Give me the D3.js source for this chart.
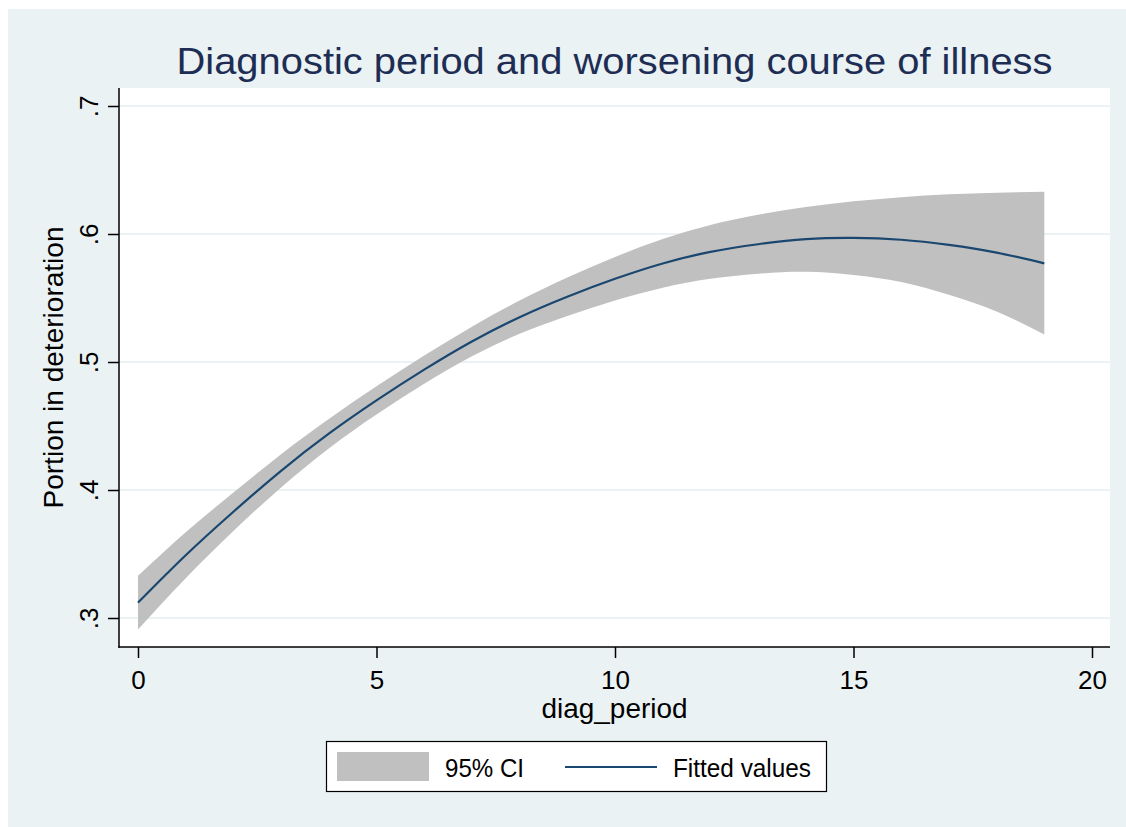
<!DOCTYPE html>
<html>
<head>
  <meta charset="UTF-8">
  <style>
    body { margin: 0; background: #fff; }
    svg { display: block; }
    text { font-family: "Liberation Sans", Arial, sans-serif; }
  </style>
</head>
<body>
  <svg width="1126" height="827"></svg>
  <script src="https://d3js.org/d3.v7.min.js"></script>
  <script>
    // values (diag_period 0..19)
    const diagPeriod = [0, 1, 2, 3, 4, 5, 6, 7, 8, 9, 10, 11, 12, 13, 14, 15, 16, 17, 18, 19];
    const fitted = [.312, .349, .383, .415, .444, .470, .494, .516, .535, .551, .565, .577, .586, .592, .596, .597, .5955, .5915, .5855, .577];
    const ciLower = [.291, .331, .368, .402, .4325, .459, .483, .5045, .522, .536, .548, .558, .565, .569, .5705, .568, .5625, .5525, .5395, .5215];
    const ciUpper = [.333, .367, .398, .428, .4555, .481, .505, .5275, .548, .566, .582, .596, .607, .615, .621, .6255, .6288, .631, .6323, .633];

    const xTicks = [0, 5, 10, 15, 20];
    const yTicks = [.3, .4, .5, .6, .7];
    const yTickLabels = ['.3', '.4', '.5', '.6', '.7'];
    const legendLabels = ['95% CI', 'Fitted values'];

    const bg = '#eaf2f3';
    const navy = '#1a476f';
    const ciGrey = '#c0c0c0';

    const svg = d3.select('svg');

    // outer graph region
    svg.append('rect')
      .attr('x', 8).attr('y', 9)
      .attr('width', 1118).attr('height', 818)
      .attr('fill', bg);

    const plot = { left: 119, right: 1110, top: 88, bottom: 647 };

    svg.append('rect')
      .attr('x', plot.left).attr('y', plot.top)
      .attr('width', plot.right - plot.left)
      .attr('height', plot.bottom - plot.top)
      .attr('fill', '#fff');

    const x = d3.scaleLinear().domain([0, 20]).range([138, 1092]);
    const y = d3.scaleLinear().domain([.3, .7]).range([618, 106]);

    // gridlines
    svg.append('g')
      .selectAll('line')
      .data(yTicks)
      .enter()
      .append('line')
      .attr('x1', plot.left).attr('x2', plot.right)
      .attr('y1', d => y(d)).attr('y2', d => y(d))
      .attr('stroke', bg)
      .attr('stroke-width', 2);

    const rows = diagPeriod.map((d, i) => ({ x: d, fit: fitted[i], lo: ciLower[i], hi: ciUpper[i] }));

    // confidence band
    const area = d3.area()
      .x(d => x(d.x))
      .y0(d => y(d.lo))
      .y1(d => y(d.hi))
      .curve(d3.curveNatural);

    svg.append('path')
      .datum(rows)
      .attr('d', area)
      .attr('fill', ciGrey);

    // fitted line
    const line = d3.line()
      .x(d => x(d.x))
      .y(d => y(d.fit))
      .curve(d3.curveNatural);

    svg.append('path')
      .datum(rows)
      .attr('d', line)
      .attr('fill', 'none')
      .attr('stroke', navy)
      .attr('stroke-width', 2.2);

    // y axis
    const yAxis = svg.append('g')
      .attr('transform', `translate(${plot.left},0)`)
      .call(d3.axisLeft(y).tickValues(yTicks).tickSize(11)
        .tickFormat((d, i) => yTickLabels[i]));
    yAxis.select('.domain').remove();
    yAxis.selectAll('.tick line').attr('stroke', '#000').attr('stroke-width', 1.5);
    yAxis.selectAll('.tick text')
      .attr('x', 0).attr('dy', null)
      .attr('transform', 'translate(-21,0) rotate(-90)')
      .attr('text-anchor', 'middle')
      .attr('font-size', 26)
      .attr('fill', '#000');

    // x axis
    const xAxis = svg.append('g')
      .attr('transform', `translate(0,${plot.bottom})`)
      .call(d3.axisBottom(x).tickValues(xTicks).tickSize(11).tickFormat(d3.format('d')));
    xAxis.select('.domain').remove();
    xAxis.selectAll('.tick line').attr('stroke', '#000').attr('stroke-width', 1.5);
    xAxis.selectAll('.tick text')
      .attr('y', 42).attr('dy', null)
      .attr('font-size', 26)
      .attr('fill', '#000');

    // axis lines
    svg.append('line')
      .attr('x1', plot.left).attr('x2', plot.left)
      .attr('y1', plot.top).attr('y2', plot.bottom + 0.75)
      .attr('stroke', '#000').attr('stroke-width', 1.5);
    svg.append('line')
      .attr('x1', plot.left - 0.75).attr('x2', plot.right)
      .attr('y1', plot.bottom).attr('y2', plot.bottom)
      .attr('stroke', '#000').attr('stroke-width', 1.5);

    // titles
    svg.append('text')
      .attr('x', (plot.left + plot.right) / 2)
      .attr('y', 74)
      .attr('text-anchor', 'middle')
      .attr('font-size', 37)
      .attr('textLength', 876)
      .attr('lengthAdjust', 'spacingAndGlyphs')
      .attr('fill', '#1e2d53')
      .text('Diagnostic period and worsening course of illness');

    svg.append('text')
      .attr('x', (plot.left + plot.right) / 2)
      .attr('y', 718)
      .attr('text-anchor', 'middle')
      .attr('font-size', 27)
      .attr('textLength', 146)
      .attr('lengthAdjust', 'spacingAndGlyphs')
      .attr('fill', '#000')
      .text('diag_period');

    svg.append('text')
      .attr('transform', `translate(63,${(plot.top + plot.bottom) / 2}) rotate(-90)`)
      .attr('text-anchor', 'middle')
      .attr('font-size', 27)
      .attr('textLength', 282)
      .attr('lengthAdjust', 'spacingAndGlyphs')
      .attr('fill', '#000')
      .text('Portion in deterioration');

    // legend
    const lg = svg.append('g');
    lg.append('rect')
      .attr('x', 326.5).attr('y', 741.5)
      .attr('width', 500).attr('height', 50)
      .attr('fill', '#fff')
      .attr('stroke', '#000')
      .attr('stroke-width', 1.2);
    lg.append('rect')
      .attr('x', 337).attr('y', 752)
      .attr('width', 92).attr('height', 29)
      .attr('fill', ciGrey);
    lg.append('text')
      .attr('x', 445).attr('y', 777)
      .attr('font-size', 26)
      .attr('textLength', 79)
      .attr('lengthAdjust', 'spacingAndGlyphs')
      .attr('fill', '#000')
      .text(legendLabels[0]);
    lg.append('line')
      .attr('x1', 565).attr('x2', 657)
      .attr('y1', 767).attr('y2', 767)
      .attr('stroke', navy)
      .attr('stroke-width', 2.2);
    lg.append('text')
      .attr('x', 673).attr('y', 777)
      .attr('font-size', 26)
      .attr('textLength', 138)
      .attr('lengthAdjust', 'spacingAndGlyphs')
      .attr('fill', '#000')
      .text(legendLabels[1]);
  </script>
</body>
</html>
